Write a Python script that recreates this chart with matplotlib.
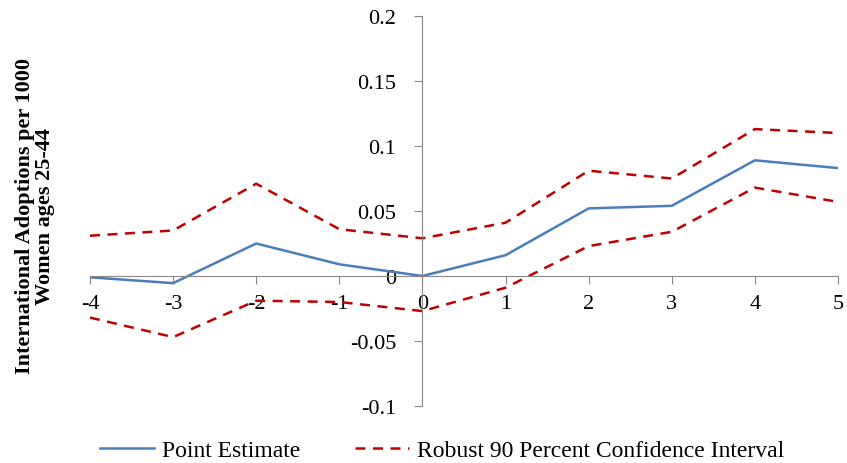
import numpy as np
import matplotlib
matplotlib.use("Agg")
from matplotlib import pyplot as plt

# Data
years = [-4, -3, -2, -1, 0, 1, 2, 3, 4, 5]
point_est = [-0.001, -0.0055, 0.025, 0.009, 0.0, 0.016, 0.052, 0.054, 0.089, 0.083]
ci_upper = [0.031, 0.035, 0.071, 0.036, 0.029, 0.041, 0.081, 0.075, 0.113, 0.110]
ci_lower = [-0.032, -0.047, -0.019, -0.020, -0.027, -0.009, 0.023, 0.034, 0.068, 0.057]
y_ticks = [-0.1, -0.05, 0, 0.05, 0.1, 0.15, 0.2]
y_labels = ["-0.1", "-0.05", "0", "0.05", "0.1", "0.15", "0.2"]

plt.rcParams['font.family'] = ['Liberation Serif', 'DejaVu Serif']

fig = plt.figure(figsize=(8.47, 4.64), dpi=100)
ax = fig.add_axes([90 / 847, 57 / 464, 748 / 847, 390 / 464])

blue = "#4a7ebb"
red = "#c00000"
ax.plot(years, point_est, color=blue, lw=1.8, label="Point Estimate")
ax.plot(years, ci_upper, color=red, lw=1.8, ls=(0, (4, 3)),
        label="Robust 90 Percent Confidence Interval")
ax.plot(years, ci_lower, color=red, lw=1.8, ls=(0, (4, 3)))

ax.set_xlim(-4, 5)
ax.set_ylim(-0.1, 0.2)

# Excel style crossing axes
gray = "#888888"
ax.spines['left'].set_position(('data', 0))
ax.spines['bottom'].set_position(('data', 0))
ax.spines['right'].set_visible(False)
ax.spines['top'].set_visible(False)
ax.spines['left'].set_color(gray)
ax.spines['bottom'].set_color(gray)

ax.set_xticks(years)
ax.set_xticklabels([str(y) for y in years])
ax.set_yticks(y_ticks)
ax.set_yticklabels(y_labels)
ax.tick_params(axis='both', colors=gray, length=6, direction='out', labelsize=16,
               labelcolor='black')
ax.tick_params(axis='x', pad=7)
ax.tick_params(axis='y', pad=13)

fig.text(0.041, 0.534, "International Adoptions per 1000\nWomen ages 25-44",
         rotation=90, ha='center', va='center', fontsize=16, fontweight='bold',
         linespacing=1.0)

handles, labels = ax.get_legend_handles_labels()
fig.legend(handles, labels, loc='center', bbox_to_anchor=(0.522, 0.028), ncol=2,
           frameon=False, fontsize=17, handlelength=2.3, handletextpad=0.35,
           columnspacing=2.3)

plt.savefig("out.png", dpi=100)
